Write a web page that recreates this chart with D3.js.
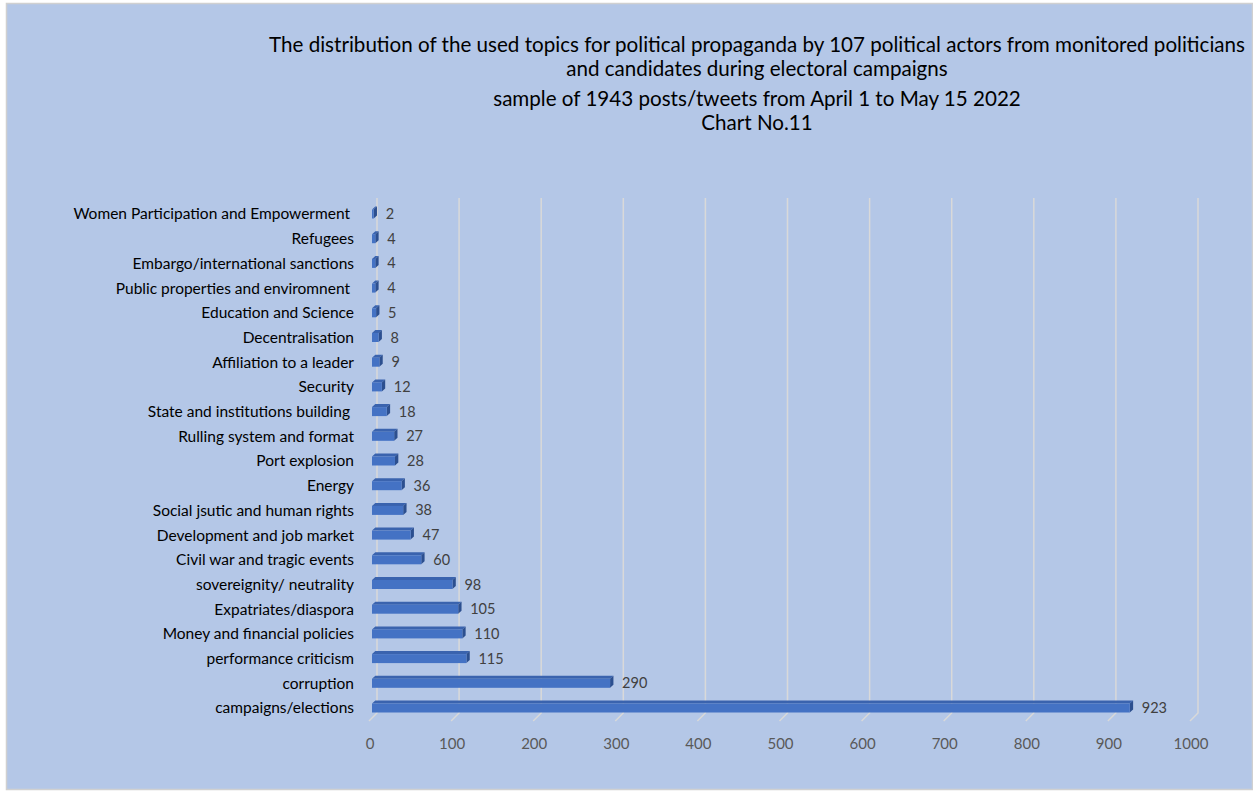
<!DOCTYPE html>
<html><head><meta charset="utf-8">
<script src="https://cdn.jsdelivr.net/npm/d3@7"></script>
<style>body{margin:0;background:#fff;} svg{display:block;} text{white-space:pre;}</style>
</head><body>
<svg id="c" width="1253" height="794"></svg>
<script>
const categories = ["Women Participation and Empowerment ","Refugees","Embargo/international sanctions","Public properties and enviromnent ","Education and Science","Decentralisation","Affiliation to a leader","Security","State and institutions building ","Rulling system and format","Port explosion","Energy","Social jsutic and human rights","Development and job market","Civil war and tragic events","sovereignity/ neutrality","Expatriates/diaspora","Money and financial policies","performance criticism","corruption","campaigns/elections"];
const values = [2,4,4,4,5,8,9,12,18,27,28,36,38,47,60,98,105,110,115,290,923];
const ticks = [0,100,200,300,400,500,600,700,800,900,1000];
const titleLines = ["The distribution of the used topics for political propaganda by 107 political actors from monitored politicians","and candidates during electoral campaigns","sample of 1943 posts/tweets from April 1 to May 15 2022","Chart No.11"];

const svg = d3.select("#c");
const font = "Lato, 'Open Sans', sans-serif";
svg.append("rect").attr("x",6.5).attr("y",3.5).attr("width",1246).attr("height",786)
  .attr("fill","#b4c7e7").attr("stroke","#d0d0d0").attr("stroke-width",1.5);

// title
const ty=[45,69,99,123];
svg.append("g").selectAll("text").data(titleLines).join("text")
  .attr("x",757).attr("y",(d,i)=>ty[i]).attr("dy","0.35em").attr("text-anchor","middle")
  .attr("font-family",font).attr("font-size",20.6).attr("fill","#000").text(d=>d);

const dx=5;
const x = d3.scaleLinear().domain([0,1000]).range([372,1193]);
const y = d3.scalePoint().domain(categories).range([213,707]);
const gridTop=198, gridBottom=713;

// gridlines (back wall + floor)
const g = svg.append("g");
g.selectAll("path.grid").data(ticks).join("path")
  .attr("d",d=>`M${x(d)+dx},${gridTop}V${gridBottom}L${x(d)-3},${gridBottom+8}`)
  .attr("fill","none").attr("stroke","#d9d9d9").attr("stroke-width",1.5);

// tick labels
g.selectAll("text.tick").data(ticks).join("text")
  .attr("x",d=>x(d)-2).attr("y",744).attr("dy","0.35em").attr("text-anchor","middle")
  .attr("font-family",font).attr("font-size",15).attr("fill","#595959").text(d=>d);

// bars
const bh=9;
const bars = svg.append("g").selectAll("g").data(values).join("g");
bars.append("path") // top face
  .attr("d",(d,i)=>{const yc=y(categories[i]);const t=yc-bh/2+1;return `M${x(0)},${t}L${x(0)+dx/1.5},${t-3}L${x(d)+dx/1.5},${t-3}L${x(d)},${t}Z`;})
  .attr("fill","#3a63ae");
bars.append("path") // side face
  .attr("d",(d,i)=>{const yc=y(categories[i]);const t=yc-bh/2+1;return `M${x(d)},${t}L${x(d)+dx/1.5},${t-3}L${x(d)+dx/1.5},${t-3+bh}L${x(d)},${t+bh}Z`;})
  .attr("fill","#2c4f8f");
bars.append("rect") // front
  .attr("x",x(0)).attr("y",(d,i)=>y(categories[i])-bh/2+1).attr("width",d=>x(d)-x(0)).attr("height",bh)
  .attr("fill","#4472c4");

// value labels
svg.append("g").selectAll("text").data(values).join("text")
  .attr("x",d=>x(d)+12).attr("y",(d,i)=>y(categories[i])+1).attr("dy","0.35em")
  .attr("font-family",font).attr("font-size",14.5).attr("fill","#404040").text(d=>d);

// category labels
svg.append("g").selectAll("text").data(categories).join("text")
  .attr("x",354).attr("y",d=>y(d)+1).attr("dy","0.35em").attr("text-anchor","end")
  .attr("font-family",font).attr("font-size",15.5).attr("fill","#000").text(d=>d);
</script>
</body></html>
